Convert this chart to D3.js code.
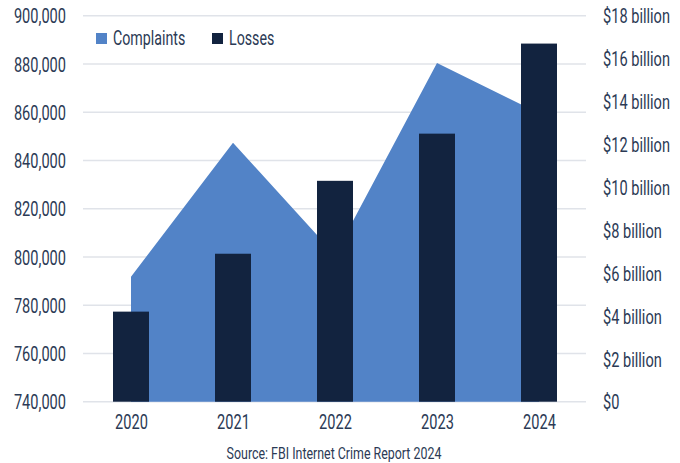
<!DOCTYPE html>
<html>
<head>
<meta charset="utf-8">
<script src="https://cdn.jsdelivr.net/npm/d3@7"></script>
<style>
  html, body { margin: 0; padding: 0; background: #ffffff; }
  svg { display: block; }
  text { font-family: Roboto, "Noto Sans", sans-serif; fill: #2b3a55; }
</style>
</head>
<body>
<svg id="chart" width="680" height="463"></svg>
<script>
// ---- Data ----
const years = ["2020", "2021", "2022", "2023", "2024"];
const complaints = [791790, 847376, 800944, 880418, 859532];
const lossesBillions = [4.2, 6.9, 10.3, 12.5, 16.7];
const leftTicks = [740000, 760000, 780000, 800000, 820000, 840000, 860000, 880000, 900000];
const rightTicks = [0, 2, 4, 6, 8, 10, 12, 14, 16, 18];
const seriesNames = ["Complaints", "Losses"];
const sourceText = "Source: FBI Internet Crime Report 2024";

// ---- Layout ----
const W = 680, H = 463;
const plotLeft = 83, plotRight = 586, plotTop = 15.7, plotBottom = 401.7;
const SX = 0.73;           // horizontal squeeze to emulate a condensed face
const colArea = "#5283c7", colBar = "#12233f", colGrid = "#e0e3e9";

const svg = d3.select("#chart");

const x = d3.scalePoint().domain(years).range([131, 539]);
const barW = 36;
const yL = d3.scaleLinear().domain([740000, 900000]).range([plotBottom, plotTop]);
const yR = d3.scaleLinear().domain([0, 18]).range([plotBottom, plotTop]);

// grid
svg.append("g").selectAll("line").data(leftTicks).join("line")
  .attr("x1", plotLeft).attr("x2", plotRight)
  .attr("y1", d => yL(d)).attr("y2", d => yL(d))
  .attr("stroke", colGrid).attr("stroke-width", 1.5);

// area
const rows = years.map((y, i) => ({ year: y, c: complaints[i], l: lossesBillions[i] }));
const area = d3.area()
  .x(d => x(d.year))
  .y0(yL(740000))
  .y1(d => yL(d.c));
svg.append("path").datum(rows).attr("d", area).attr("fill", colArea);

// bars
svg.append("g").selectAll("rect").data(rows).join("rect")
  .attr("x", d => x(d.year) - barW / 2)
  .attr("width", barW)
  .attr("y", d => yR(d.l))
  .attr("height", d => yR(0) - yR(d.l))
  .attr("fill", colBar);

function squeezeText(sel) {
  sel.each(function () {
    const t = d3.select(this);
    const xx = +t.attr("x") || 0;
    t.attr("x", xx / SX).attr("transform", `scale(${SX},1)`);
  });
}

// left axis
const axL = d3.axisLeft(yL).tickValues(leftTicks).tickFormat(d3.format(",")).tickSize(0).tickPadding(0);
const gL = svg.append("g").attr("transform", "translate(66,0)").call(axL);
gL.select(".domain").remove();
gL.selectAll("text").attr("font-size", 20).attr("font-family", null).attr("fill", "#2b3a55")
  .attr("dy", "0.36em").attr("x", 0).call(squeezeText);

// right axis
const axR = d3.axisRight(yR).tickValues(rightTicks)
  .tickFormat(d => d === 0 ? "$0" : `$${d} billion`).tickSize(0).tickPadding(0);
const gR = svg.append("g").attr("transform", "translate(603,0)").call(axR);
gR.select(".domain").remove();
gR.selectAll("text").attr("font-size", 20).attr("font-family", null).attr("fill", "#2b3a55")
  .attr("dy", "0.36em").attr("x", 0).call(squeezeText);

// bottom axis
const axB = d3.axisBottom(x).tickSize(0).tickPadding(0);
const gB = svg.append("g").attr("transform", "translate(0,429)").call(axB);
gB.select(".domain").remove();
gB.selectAll("text").attr("font-size", 20).attr("font-family", null).attr("fill", "#2b3a55")
  .attr("dy", 0).attr("y", 0).attr("x", 0).call(squeezeText);

// legend
const legend = [
  { name: seriesNames[0], color: colArea, sx: 96, tx: 113 },
  { name: seriesNames[1], color: colBar, sx: 212, tx: 229 }
];
const lg = svg.append("g");
legend.forEach(d => {
  lg.append("rect").attr("x", d.sx).attr("y", 33).attr("width", 11).attr("height", 11).attr("fill", d.color);
  lg.append("text").attr("x", d.tx / SX).attr("y", 45.5).attr("transform", `scale(${SX},1)`)
    .attr("font-size", 19.5).text(d.name);
});

// source
svg.append("text").attr("x", 334 / SX).attr("y", 459).attr("transform", `scale(${SX},1)`)
  .attr("text-anchor", "middle").attr("font-size", 17).text(sourceText);
</script>
</body>
</html>
